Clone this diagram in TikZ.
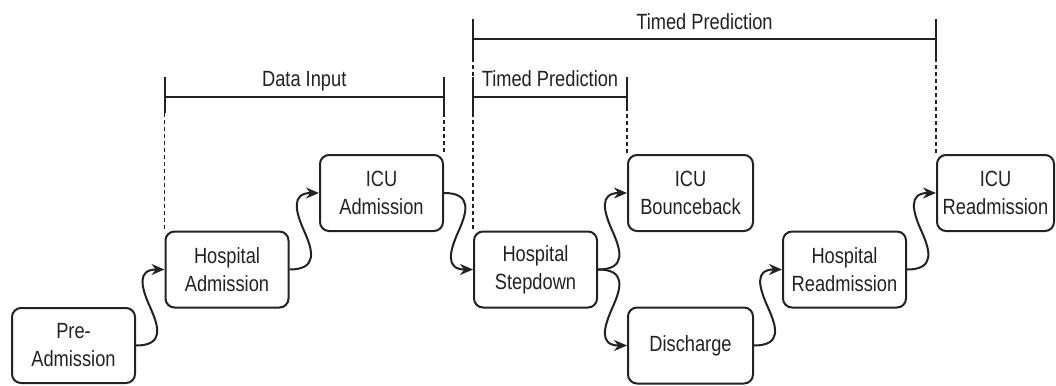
\documentclass[tikz,border=0pt]{standalone}
\usepackage{fontspec}
\setmainfont{Liberation Sans}[FakeStretch=0.83]
\usetikzlibrary{calc,arrows.meta}
\definecolor{ink}{RGB}{34,34,34}
\begin{document}
\begin{tikzpicture}[x=1pt,y=-1pt,
  stage/.style={draw=ink, line width=2pt, rounded corners=9pt,
    minimum width=123pt, minimum height=76pt, inner sep=0pt,
    align=center, text=ink, font=\fontsize{22}{28}\selectfont},
  flow/.style={draw=ink, line width=2pt, -{Stealth[length=13pt,width=11pt]}},
  span/.style={draw=ink, line width=2pt},
  guide/.style={draw=ink, line width=1.7pt, dash pattern=on 4pt off 3pt},
  spanlabel/.style={text=ink, font=\fontsize{22}{26}\selectfont,
    anchor=base, inner sep=0pt}]
\useasboundingbox (0,0) rectangle (1056,385);

% care pathway stages
\node[stage, minimum height=75pt] (pre) at (73.5,345.5) {Pre-\\Admission};
\node[stage] (hadm)    at (227,269.5)   {Hospital\\Admission};
\node[stage] (icuadm)  at (381.5,193)   {ICU\\Admission};
\node[stage] (step)    at (535.5,269.5) {Hospital\\Stepdown};
\node[stage, minimum width=125pt] (bounce) at (690.5,193)   {ICU\\Bounceback};
\node[stage, minimum width=125pt] (disch)  at (690.5,345.5) {Discharge};
\node[stage] (hread)   at (844.5,269.5) {Hospital\\Readmission};
\node[stage, minimum width=117pt] (icuread) at (995.5,193) {ICU\\Readmission};

% wavy transitions: upward and downward
\draw[flow] (pre.east) .. controls +(28,0) and +(9,20) .. ($(pre.east)!0.5!(hadm.west)$)
  .. controls +(-9,-20) and +(-28,0) .. (hadm.west);
\draw[flow] (hadm.east) .. controls +(28,0) and +(9,20) .. ($(hadm.east)!0.5!(icuadm.west)$)
  .. controls +(-9,-20) and +(-28,0) .. (icuadm.west);
\draw[flow] (icuadm.east) .. controls +(28,0) and +(9,-20) .. ($(icuadm.east)!0.5!(step.west)$)
  .. controls +(-9,20) and +(-28,0) .. (step.west);
\draw[flow] (step.east) .. controls +(28,0) and +(9,20) .. ($(step.east)!0.5!(bounce.west)$)
  .. controls +(-9,-20) and +(-28,0) .. (bounce.west);
\draw[flow] (step.east) .. controls +(28,0) and +(9,-20) .. ($(step.east)!0.5!(disch.west)$)
  .. controls +(-9,20) and +(-28,0) .. (disch.west);
\draw[flow] (disch.east) .. controls +(28,0) and +(9,20) .. ($(disch.east)!0.5!(hread.west)$)
  .. controls +(-9,-20) and +(-28,0) .. (hread.west);
\draw[flow] (hread.east) .. controls +(28,0) and +(9,20) .. ($(hread.east)!0.5!(icuread.west)$)
  .. controls +(-9,-20) and +(-28,0) .. (icuread.west);

% bracket levels
\coordinate (lowlvl) at (0,97);
\coordinate (highlvl) at (0,39);

\coordinate (diL) at (hadm.north west |- lowlvl);
\coordinate (diR) at (icuadm.north east |- lowlvl);
\coordinate (tsL) at (step.north west |- lowlvl);
\coordinate (tsR) at (bounce.north west |- lowlvl);
\coordinate (tlL) at (step.north west |- highlvl);
\coordinate (tlR) at (icuread.north west |- highlvl);

% Data Input bracket
\draw[span] (diL) -- (diR);
\draw[span] ($(diL)+(0,-20)$) -- ($(diL)+(0,16)$);
\draw[span] ($(diR)+(0,-20)$) -- ($(diR)+(0,16)$);
\draw[guide] ($(diL)+(0,16)$) -- (hadm.north west);
\draw[guide] ($(diR)+(0,16)$) -- (icuadm.north east);
\node[spanlabel] (dilabel) at ($(diL)!0.5!(diR)+(0,-10)$) {Data Input};

% short Timed Prediction bracket
\draw[span] (tsL) -- (tsR);
\draw[span] ($(tsL)+(0,-20)$) -- ($(tsL)+(0,16)$);
\draw[span] ($(tsR)+(0,-20)$) -- ($(tsR)+(0,10)$);
\draw[guide] ($(tsL)+(0,16)$) -- (step.north west);
\draw[guide] ($(tsR)+(0,10)$) -- (bounce.north west);
\node[spanlabel] (tslabel) at ($(tsL)!0.5!(tsR)+(0,-10)$) {Timed Prediction};

% long Timed Prediction bracket
\draw[span] (tlL) -- (tlR);
\draw[span] ($(tlL)+(0,-20)$) -- ($(tlL)+(0,19)$);
\draw[span] ($(tlR)+(0,-20)$) -- ($(tlR)+(0,19)$);
\draw[guide] ($(tlL)+(0,19)$) -- ($(tsL)+(0,-20)$);
\draw[guide] ($(tlR)+(0,19)$) -- (icuread.north west);
\node[spanlabel] (tllabel) at ($(tlL)!0.5!(tlR)+(0,-9)$) {Timed Prediction};
\end{tikzpicture}
\end{document}
